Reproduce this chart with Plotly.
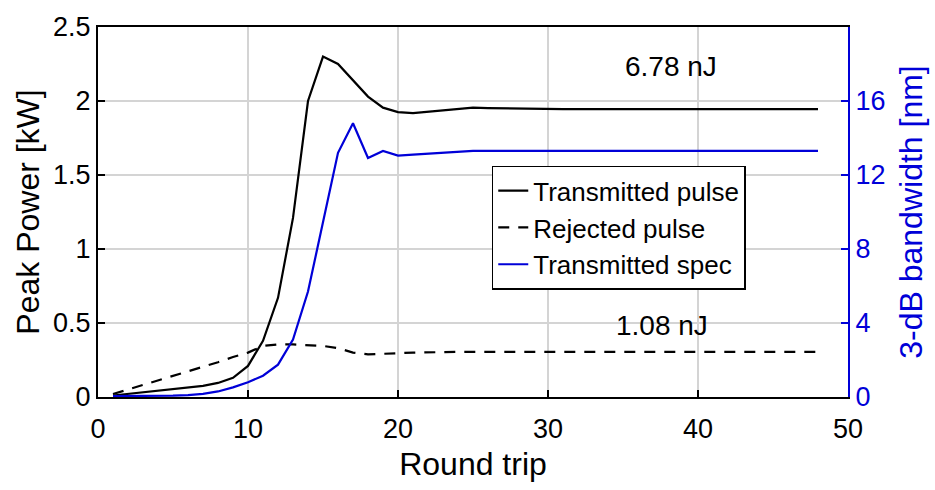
import plotly.graph_objects as go

round_trip = list(range(1, 49))

transmitted_pulse_kw = [
    0.01, 0.02, 0.03, 0.04, 0.05, 0.06, 0.075, 0.095, 0.13, 0.21,
    0.38, 0.67, 1.21, 2.00, 2.30, 2.25, 2.14, 2.03, 1.955, 1.925,
    1.918, 1.928, 1.94, 1.95, 1.955, 1.952, 1.95, 1.948, 1.946, 1.945,
    1.945, 1.945, 1.945, 1.945, 1.945, 1.945, 1.945, 1.945, 1.945, 1.945,
    1.945, 1.945, 1.945, 1.945, 1.945, 1.945, 1.945, 1.945,
]

rejected_pulse_kw = [
    0.02, 0.05, 0.08, 0.11, 0.14, 0.17, 0.20, 0.235, 0.27, 0.30,
    0.345, 0.355, 0.355, 0.35, 0.345, 0.33, 0.30, 0.288, 0.29, 0.296,
    0.30, 0.303, 0.304, 0.305, 0.305, 0.305, 0.305, 0.305, 0.305, 0.305,
    0.305, 0.305, 0.305, 0.305, 0.305, 0.305, 0.305, 0.305, 0.305, 0.305,
    0.305, 0.305, 0.305, 0.305, 0.305, 0.305, 0.305, 0.305,
]

transmitted_spec_nm = [
    0.05, 0.05, 0.05, 0.05, 0.07, 0.1, 0.17, 0.3, 0.52, 0.8,
    1.15, 1.75, 3.1, 5.7, 9.4, 13.2, 14.8, 12.92, 13.3, 13.05,
    13.1, 13.15, 13.2, 13.25, 13.3, 13.3, 13.3, 13.3, 13.3, 13.3,
    13.3, 13.3, 13.3, 13.3, 13.3, 13.3, 13.3, 13.3, 13.3, 13.3,
    13.3, 13.3, 13.3, 13.3, 13.3, 13.3, 13.3, 13.3,
]

left_ticks = [0, 0.5, 1, 1.5, 2, 2.5]
left_tick_text = ["0", "0.5", "1", "1.5", "2", "2.5"]
right_ticks = [0, 4, 8, 12, 16]
x_ticks = [0, 10, 20, 30, 40, 50]

energy_labels = ["6.78 nJ", "1.08 nJ"]
energy_pos_x = [38.2, 37.6]
energy_pos_y = [2.23, 0.485]

FONT = "Liberation Sans, Arial, Helvetica, sans-serif"
BLUE = "#0000d8"
GRID = "#d4d4d4"

fig = go.Figure()
fig.add_trace(go.Scatter(x=round_trip, y=transmitted_pulse_kw, mode="lines",
                         name="Transmitted pulse",
                         line=dict(color="black", width=2.2)))
fig.add_trace(go.Scatter(x=round_trip, y=rejected_pulse_kw, mode="lines",
                         name="Rejected pulse",
                         line=dict(color="black", width=2.2, dash="11px,9px")))
fig.add_trace(go.Scatter(x=round_trip, y=transmitted_spec_nm, mode="lines",
                         name="Transmitted spec", yaxis="y2",
                         line=dict(color=BLUE, width=2.2)))

for t, ax, ay in zip(energy_labels, energy_pos_x, energy_pos_y):
    fig.add_annotation(x=ax, y=ay, xref="x", yref="y", text=t, showarrow=False,
                       font=dict(family=FONT, size=28, color="black"))

fig.update_layout(
    width=935, height=490,
    margin=dict(l=98, r=87, t=15, b=93),
    paper_bgcolor="white", plot_bgcolor="white",
    font=dict(family=FONT, size=27, color="black"),
    showlegend=True,
    legend=dict(x=0.525, y=0.625, xanchor="left", yanchor="top",
                bgcolor="white", bordercolor="black", borderwidth=1.5,
                font=dict(family=FONT, size=26, color="black"),
                tracegroupgap=0, itemwidth=30),
    xaxis=dict(range=[0, 50], tickvals=x_ticks, showgrid=True, gridcolor=GRID,
               gridwidth=1.5, showline=True, linecolor="black", linewidth=2,
               mirror=True, ticks="inside", ticklen=7, tickwidth=2,
               tickcolor="black", zeroline=False, ticklabelstandoff=7,
               title=dict(text="Round trip", font=dict(size=32), standoff=9),
               tickfont=dict(size=27)),
    yaxis=dict(range=[0, 2.5], tickvals=left_ticks, ticktext=left_tick_text,
               showgrid=True, gridcolor=GRID, gridwidth=1.5, showline=True,
               linecolor="black", linewidth=2, ticks="inside", ticklen=7,
               tickwidth=2, tickcolor="black", zeroline=False,
               title=dict(text="Peak Power [kW]", font=dict(size=32), standoff=4),
               tickfont=dict(size=27)),
    yaxis2=dict(range=[0, 20], tickvals=right_ticks, overlaying="y",
                side="right", showgrid=False, showline=True, linecolor=BLUE,
                linewidth=2, ticks="inside", ticklen=7, tickwidth=2,
                tickcolor=BLUE, zeroline=False, automargin=False,
                title=dict(text="3-dB bandwidth [nm]",
                           font=dict(size=32, color=BLUE), standoff=15),
                tickfont=dict(size=27, color=BLUE)),
)

fig.write_html("out.html")
